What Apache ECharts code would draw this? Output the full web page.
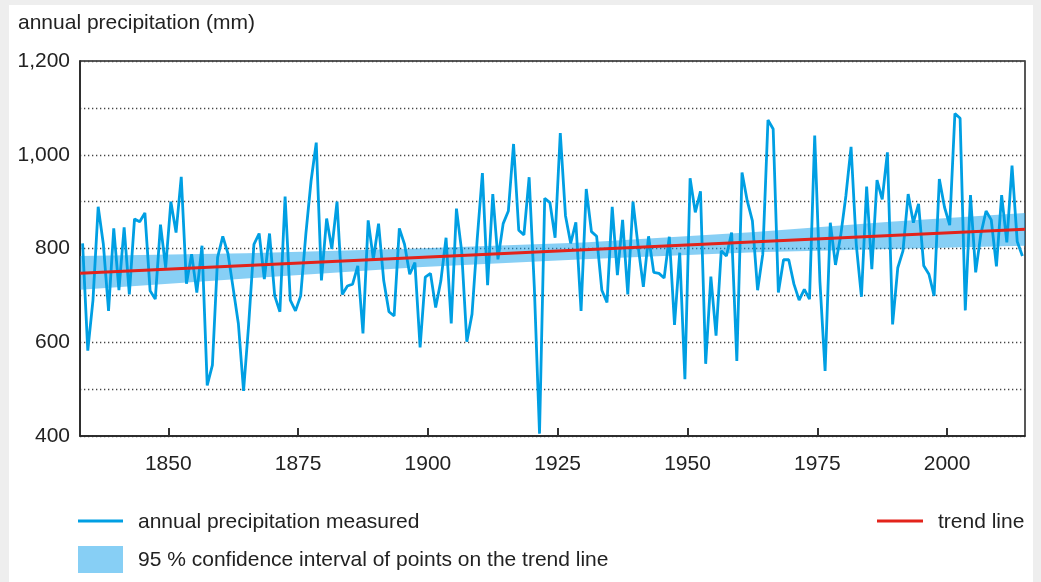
<!DOCTYPE html>
<html>
<head>
<meta charset="utf-8">
<script src="https://cdn.jsdelivr.net/npm/echarts@6/dist/echarts.min.js"></script>
<style>
  html, body { margin: 0; padding: 0; background: #eeeeee; }
  #panel { position: absolute; left: 9px; top: 5px; width: 1024px; height: 577px; background: #ffffff; }
  #chart { position: absolute; left: 0; top: 0; width: 1041px; height: 582px; }
</style>
</head>
<body>
<div id="panel"></div>
<div id="chart"></div>
<script>
// ---- data ----
const startYear = 1833;
const precipitation = [
  811, 582, 690, 889, 809, 667, 843, 711, 845, 702,   // 1833-1842
  863, 857, 876, 710, 692, 851, 759, 900, 834, 953,   // 1843-1852
  725, 788, 706, 806, 508, 551, 781, 826, 789, 715,   // 1853-1862
  640, 496, 640, 809, 832, 735, 832, 699, 665, 911,   // 1863-1872
  690, 667, 699, 831, 944, 1026, 732, 864, 799, 900,  // 1873-1882
  702, 720, 724, 763, 619, 860, 777, 853, 731, 665,   // 1883-1892
  656, 843, 809, 745, 770, 589, 739, 747, 674, 731,   // 1893-1902
  823, 640, 885, 795, 601, 660, 820, 961, 722, 916,   // 1903-1912
  777, 853, 880, 1023, 839, 829, 952, 717, 405, 907,  // 1913-1922
  898, 823, 1046, 870, 811, 856, 667, 927, 836, 826,  // 1923-1932
  711, 685, 889, 743, 861, 702, 900, 804, 718, 826,   // 1933-1942
  749, 747, 737, 825, 637, 791, 521, 950, 877, 922,   // 1943-1952
  554, 740, 614, 795, 784, 834, 560, 962, 902, 859,   // 1953-1962
  711, 788, 1074, 1055, 706, 776, 776, 724, 690, 713, // 1963-1972
  692, 1041, 730, 539, 855, 765, 827, 912, 1017, 809, // 1973-1982
  697, 932, 756, 946, 905, 1005, 638, 759, 795, 916,  // 1983-1992
  855, 895, 763, 745, 699, 948, 888, 850, 1088, 1078, // 1993-2002
  668, 914, 749, 831, 880, 861, 762, 914, 813, 977,   // 2003-2012
  815, 784                                            // 2013-2014
];
const trendYears = [1833, 2015];
const trendValues = [747, 841];
const bandYears = [1833, 1865, 1898, 1930, 1963, 1989, 2015];
const bandLow   = [712, 736, 760, 777, 792, 799, 806];
const bandHigh  = [784, 790, 800, 813, 835, 857, 876];
const xTickLabels = [1850, 1875, 1900, 1925, 1950, 1975, 2000];
const yTickLabels = [400, 600, 800, 1000, 1200];

// ---- build ----
const measured = precipitation.map((v, i) => [startYear + i + 0.5, v]);
const bandData = bandYears.map((y, i) => [y, bandLow[i], bandHigh[i]]);
const trendData = trendYears.map((y, i) => [y, trendValues[i]]);
const fmt = v => String(v).replace(/\B(?=(\d{3})+(?!\d))/g, ',');
const FONT = 'Liberation Sans, Arial, Helvetica, sans-serif';
const FS = 21;
const BLUE = '#009fe3', RED = '#e3231b', BAND = 'rgba(15,160,235,0.5)';

const chart = echarts.init(document.getElementById('chart'), null, { renderer: 'canvas' });
chart.setOption({
  animation: false,
  backgroundColor: 'transparent',
  textStyle: { fontFamily: FONT },
  grid: { left: 80, right: 16, top: 61, bottom: 146, show: true, borderColor: '#222', borderWidth: 1.5, backgroundColor: 'transparent' },
  xAxis: {
    type: 'value', min: 1833, max: 2015,
    axisLine: { show: true, onZero: false, lineStyle: { color: '#222', width: 1.5 } },
    axisTick: { show: true, inside: true, length: 8, customValues: xTickLabels, lineStyle: { color: '#333', width: 2 } },
    axisLabel: { customValues: xTickLabels, formatter: v => String(v), fontSize: FS, color: '#222', margin: 18, fontFamily: FONT },
    splitLine: { show: false }
  },
  yAxis: {
    type: 'value', min: 400, max: 1200, interval: 100,
    axisLine: { show: true, lineStyle: { color: '#222', width: 1.5 } },
    axisTick: { show: false },
    axisLabel: { customValues: yTickLabels, formatter: fmt, fontSize: FS, color: '#222', margin: 10, fontFamily: FONT },
    splitLine: { show: true, lineStyle: { color: '#444', width: 1.3, type: [1.3, 2.7] } }
  },
  graphic: [
    { type: 'text', left: 18, top: 13, style: { text: 'annual precipitation (mm)', font: FS + 'px ' + FONT, fill: '#222' } },
    { type: 'line', shape: { x1: 78, y1: 521, x2: 123, y2: 521 }, style: { stroke: BLUE, lineWidth: 2.8 } },
    { type: 'text', left: 138, top: 512, style: { text: 'annual precipitation measured', font: FS + 'px ' + FONT, fill: '#222' } },
    { type: 'rect', shape: { x: 78, y: 546, width: 45, height: 27 }, style: { fill: BAND } },
    { type: 'text', left: 138, top: 550, style: { text: '95 % confidence interval of points on the trend line', font: FS + 'px ' + FONT, fill: '#222' } },
    { type: 'line', shape: { x1: 877, y1: 521, x2: 923, y2: 521 }, style: { stroke: RED, lineWidth: 2.8 } },
    { type: 'text', left: 938, top: 512, style: { text: 'trend line', font: FS + 'px ' + FONT, fill: '#222' } }
  ],
  series: [
    {
      type: 'custom', data: bandData, silent: true, z: 1,
      encode: { x: 0, y: [1, 2] },
      renderItem: function (params, api) {
        if (params.dataIndex !== 0) return null;
        const upper = bandData.map(d => api.coord([d[0], d[2]]));
        const lower = bandData.map(d => api.coord([d[0], d[1]])).reverse();
        return { type: 'polygon', shape: { points: upper.concat(lower) }, style: { fill: BAND } };
      }
    },
    { type: 'line', data: measured, symbol: 'none', lineStyle: { color: BLUE, width: 2.8 }, z: 3 },
    { type: 'line', data: trendData, symbol: 'none', lineStyle: { color: RED, width: 3 }, z: 4 }
  ]
});
</script>
</body>
</html>
